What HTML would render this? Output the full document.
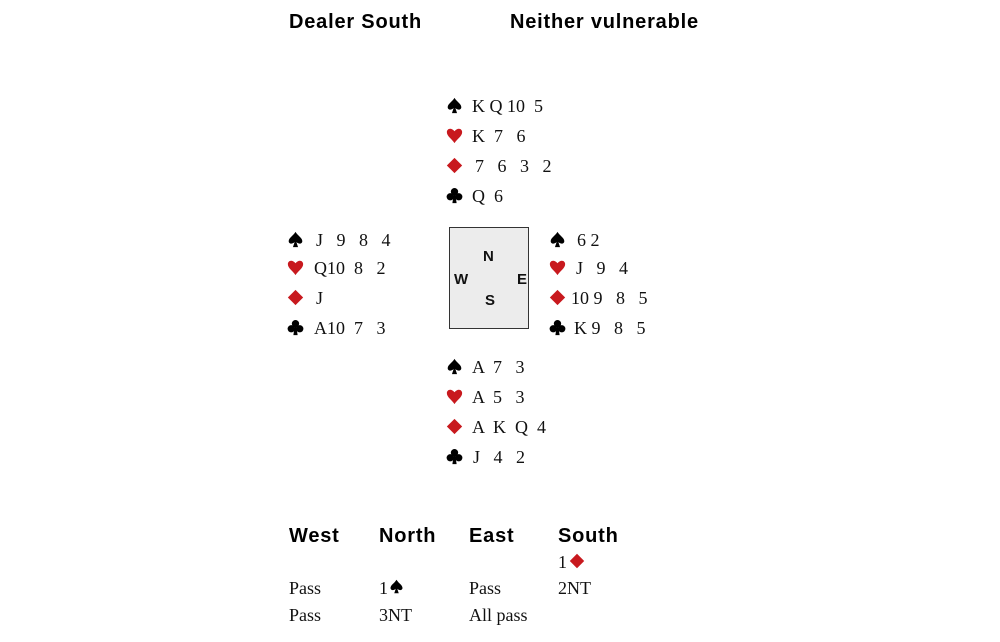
<!DOCTYPE html>
<html><head><meta charset="utf-8"><style>
body{margin:0;width:1000px;height:642px;background:#fff;position:relative;overflow:hidden}
.h{position:absolute;font:bold 20px/24px "Liberation Sans",sans-serif;color:#000;letter-spacing:0.8px}
.t{position:absolute;font:18px/20px "Liberation Serif",serif;color:#111;white-space:pre}
svg.s{position:absolute;width:17px;height:17px}
.box{position:absolute;left:449px;top:227px;width:78px;height:100px;background:#ececec;border:1.5px solid #333}
.c{position:absolute;font:bold 15px/16px "Liberation Sans",sans-serif;color:#111}
</style></head><body>
<svg width="0" height="0" style="position:absolute">
<defs>
<symbol id="sp" viewBox="0 0 20 20"><path d="M10 1 C7 6 2 8 2 12 C2 15 6 16 9 13 L7 19 H13 L11 13 C14 16 18 15 18 12 C18 8 13 6 10 1Z" fill="#000"/></symbol>
<symbol id="he" viewBox="0 0 20 20"><path d="M10 19 C7 14 1 11 1 6 C1 2 6 0 10 5 C14 0 19 2 19 6 C19 11 13 14 10 19Z" fill="#c8191e"/></symbol>
<symbol id="di" viewBox="0 0 20 20"><path d="M10 1 L19 10 L10 19 L1 10Z" fill="#c8191e"/></symbol>
<symbol id="cl" viewBox="0 0 20 20"><circle cx="10" cy="5.5" r="4.3" fill="#000"/><circle cx="5" cy="11.5" r="4.3" fill="#000"/><circle cx="15" cy="11.5" r="4.3" fill="#000"/><path d="M9 9 H11 L12.5 19 H7.5Z" fill="#000"/></symbol>
</defs></svg>
<div class="h" style="left:289px;top:10px">Dealer South</div>
<div class="h" style="left:510px;top:10px">Neither vulnerable</div>

<!-- North -->
<svg class="s" style="left:446px;top:97px"><use href="#sp"/></svg><div class="t" style="left:472px;top:96px">K Q 10  5</div>
<svg class="s" style="left:446px;top:127px"><use href="#he"/></svg><div class="t" style="left:472px;top:126px">K  7   6</div>
<svg class="s" style="left:446px;top:157px"><use href="#di"/></svg><div class="t" style="left:475px;top:156px">7   6   3   2</div>
<svg class="s" style="left:446px;top:187px"><use href="#cl"/></svg><div class="t" style="left:472px;top:186px">Q  6</div>

<!-- West -->
<svg class="s" style="left:287px;top:231px"><use href="#sp"/></svg><div class="t" style="left:316px;top:230px">J   9   8   4</div>
<svg class="s" style="left:287px;top:259px"><use href="#he"/></svg><div class="t" style="left:314px;top:258px">Q10  8   2</div>
<svg class="s" style="left:287px;top:289px"><use href="#di"/></svg><div class="t" style="left:316px;top:288px">J</div>
<svg class="s" style="left:287px;top:319px"><use href="#cl"/></svg><div class="t" style="left:314px;top:318px">A10  7   3</div>

<!-- East -->
<svg class="s" style="left:549px;top:231px"><use href="#sp"/></svg><div class="t" style="left:577px;top:230px">6 2</div>
<svg class="s" style="left:549px;top:259px"><use href="#he"/></svg><div class="t" style="left:576px;top:258px">J   9   4</div>
<svg class="s" style="left:549px;top:289px"><use href="#di"/></svg><div class="t" style="left:571px;top:288px">10 9   8   5</div>
<svg class="s" style="left:549px;top:319px"><use href="#cl"/></svg><div class="t" style="left:574px;top:318px">K 9   8   5</div>

<!-- South -->
<svg class="s" style="left:446px;top:358px"><use href="#sp"/></svg><div class="t" style="left:472px;top:357px">A  7   3</div>
<svg class="s" style="left:446px;top:388px"><use href="#he"/></svg><div class="t" style="left:472px;top:387px">A  5   3</div>
<svg class="s" style="left:446px;top:418px"><use href="#di"/></svg><div class="t" style="left:472px;top:417px">A  K  Q  4</div>
<svg class="s" style="left:446px;top:448px"><use href="#cl"/></svg><div class="t" style="left:473px;top:447px">J   4   2</div>

<div class="box"></div>
<div class="c" style="left:483px;top:249px">N</div>
<div class="c" style="left:454px;top:272px">W</div>
<div class="c" style="left:517px;top:272px">E</div>
<div class="c" style="left:485px;top:293px">S</div>

<div class="h" style="left:289px;top:524px">West</div>
<div class="h" style="left:379px;top:524px">North</div>
<div class="h" style="left:469px;top:524px">East</div>
<div class="h" style="left:558px;top:524px">South</div>
<div class="t" style="left:558px;top:552px">1</div><svg class="s" style="left:569px;top:553px;width:16px;height:16px"><use href="#di"/></svg>
<div class="t" style="left:289px;top:578px">Pass</div>
<div class="t" style="left:379px;top:578px">1</div><svg class="s" style="left:389px;top:579px;width:15px;height:15px"><use href="#sp"/></svg>
<div class="t" style="left:469px;top:578px">Pass</div>
<div class="t" style="left:558px;top:578px">2NT</div>
<div class="t" style="left:289px;top:605px">Pass</div>
<div class="t" style="left:379px;top:605px">3NT</div>
<div class="t" style="left:469px;top:605px">All pass</div>
</body></html>
